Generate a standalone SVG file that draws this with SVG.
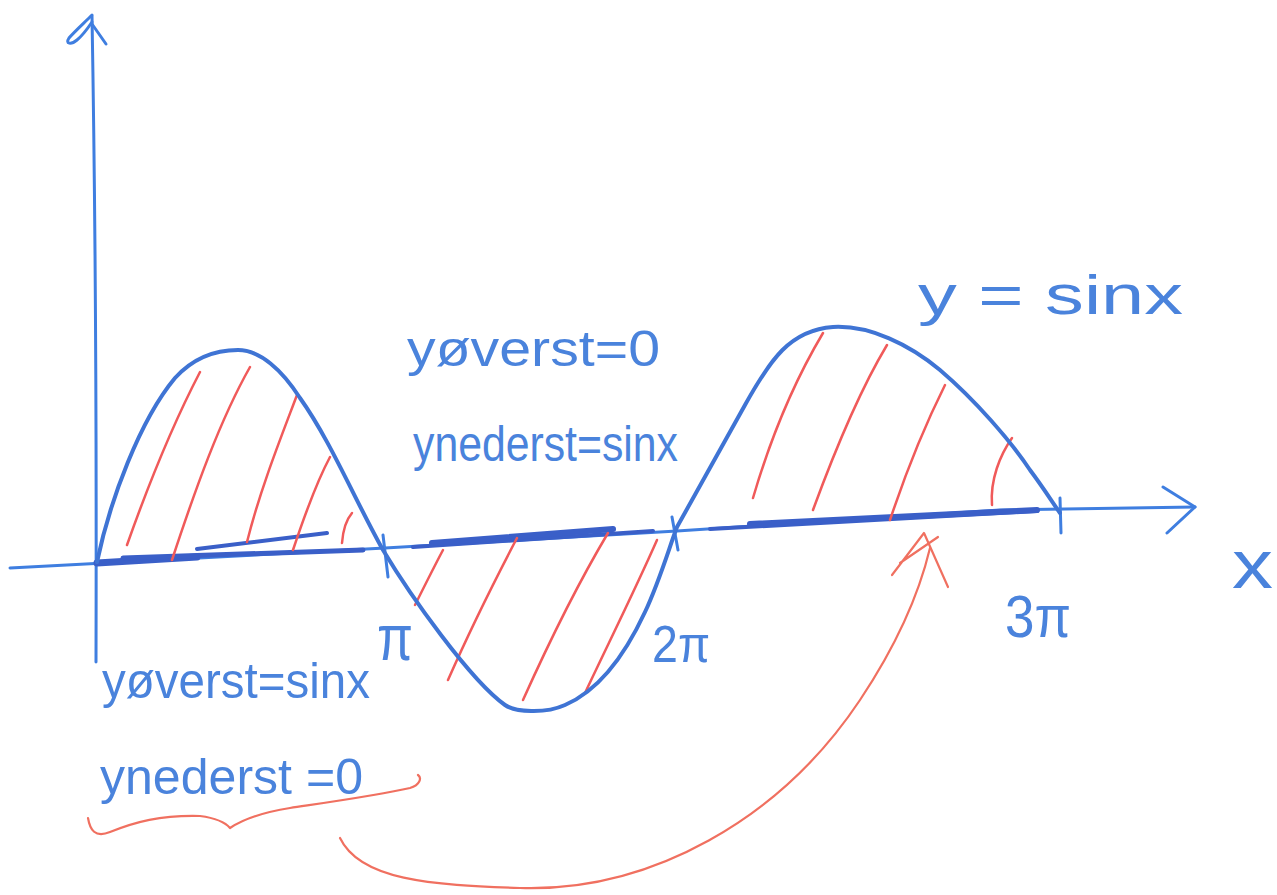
<svg xmlns="http://www.w3.org/2000/svg" width="1277" height="895" viewBox="0 0 1277 895">
<style>
.ax{fill:none;stroke:#3f7ee0;stroke-width:3;stroke-linecap:round;stroke-linejoin:round}
.crv{fill:none;stroke:#3f74d4;stroke-width:4;stroke-linecap:round;stroke-linejoin:round}
.thick{fill:none;stroke:#3a5fc8;stroke-linecap:round}
.hat{fill:none;stroke:#f05a5a;stroke-width:2.5;stroke-linecap:round}
.red{fill:none;stroke:#f07060;stroke-width:2.2;stroke-linecap:round;stroke-linejoin:round}
.lbl{font-family:"Liberation Sans","DejaVu Sans",sans-serif;fill:#4a83dc}
</style>
<rect width="1277" height="895" fill="#ffffff"/>
<g id="axes">
<path class="ax" d="M92,16 Q97,300 96,662"/>
<path class="ax" stroke-width="4" d="M92,15 C84,23 74,32 69,38 C65,44 71,45 77,40 C83,35 88,28 92,22 M92,24 L106,44"/>
<path class="ax" d="M10,568 L385,548 L677,531 L1000,510 L1195,507"/>
<path class="ax" stroke-width="4" d="M1163,487 L1195,507 L1167,533"/>
<path class="ax" d="M383,535 L388,577 M672,517 L678,550 M1060,498 L1061,533"/>
</g>
<g id="underlines">
<path class="thick" stroke-width="7" d="M97,563 L197,557"/>
<path class="thick" stroke-width="5" d="M123,558 L363,550"/>
<path class="thick" stroke-width="4" d="M197,549 L327,533"/>
<path class="thick" stroke-width="4" d="M413,547 L653,531"/>
<path class="thick" stroke-width="6" d="M432,543 L613,529"/>
<path class="thick" stroke-width="4" d="M710,529 L1037,511"/>
<path class="thick" stroke-width="6" d="M750,524 L1037,510"/>
</g>
<g id="hatching">
<path class="hat" d="M127,545 C150,480 175,420 200,372"/>
<path class="hat" d="M172,560 C195,490 220,420 250,367"/>
<path class="hat" d="M247,542 C260,490 280,440 297,395"/>
<path class="hat" d="M293,550 C303,520 315,485 330,457"/>
<path class="hat" d="M342,543 C343,530 346,520 352,513"/>
<path class="hat" d="M415,605 C425,585 435,565 443,550"/>
<path class="hat" d="M448,680 C470,630 495,580 517,538"/>
<path class="hat" d="M523,700 C550,640 580,580 608,533"/>
<path class="hat" d="M585,693 C610,640 635,590 657,540"/>
<path class="hat" d="M753,498 C770,440 795,380 823,333"/>
<path class="hat" d="M813,510 C835,450 860,390 887,345"/>
<path class="hat" d="M890,520 C905,475 925,425 945,385"/>
<path class="hat" d="M992,505 C990,480 1000,455 1012,438"/>
</g>
<g id="sine">
<path class="crv" d="M97,562 C110,500 140,420 175,378 C195,356 218,350 238,350 C260,350 282,370 300,398 C330,440 355,500 383,550 C410,595 470,680 505,705 C515,712 545,714 565,705 C600,690 625,655 645,612 C660,580 670,545 677,527 C695,495 720,450 745,405 C770,360 790,330 833,327 C870,325 910,345 940,370 C975,400 1010,440 1030,470 C1045,490 1052,502 1060,513"/>
</g>
<g id="annotations">
<path class="red" d="M88,818 C90,830 95,838 110,832 C135,822 160,815 200,816 C215,818 225,822 230,828 C245,818 265,812 290,808 C330,802 380,795 410,788 C420,785 422,778 418,775"/>
<path class="red" d="M340,838 C360,880 430,885 520,888 C650,892 780,820 860,700 C900,640 920,590 930,548"/>
<path class="red" d="M892,575 L924,533 L948,587 M900,563 L938,537"/>
</g>
<g id="labels">
<text class="lbl" x="918" y="314" font-size="56" textLength="265" lengthAdjust="spacingAndGlyphs">y = sinx</text>
<text class="lbl" x="407" y="366" font-size="50" textLength="253" lengthAdjust="spacingAndGlyphs">yøverst=0</text>
<text class="lbl" x="413" y="461" font-size="50" textLength="265" lengthAdjust="spacingAndGlyphs">ynederst=sinx</text>
<text class="lbl" x="102" y="698" font-size="50" textLength="268" lengthAdjust="spacingAndGlyphs">yøverst=sinx</text>
<text class="lbl" x="377" y="660" font-size="64" textLength="36" lengthAdjust="spacingAndGlyphs">π</text>
<text class="lbl" x="100" y="794" font-size="50" textLength="263" lengthAdjust="spacingAndGlyphs">ynederst =0</text>
<text class="lbl" x="652" y="662" font-size="52" textLength="58" lengthAdjust="spacingAndGlyphs">2π</text>
<text class="lbl" x="1005" y="637" font-size="60" textLength="66" lengthAdjust="spacingAndGlyphs">3π</text>
<text class="lbl" x="1232" y="588" font-size="68" textLength="41" lengthAdjust="spacingAndGlyphs">x</text>
</g>
</svg>
